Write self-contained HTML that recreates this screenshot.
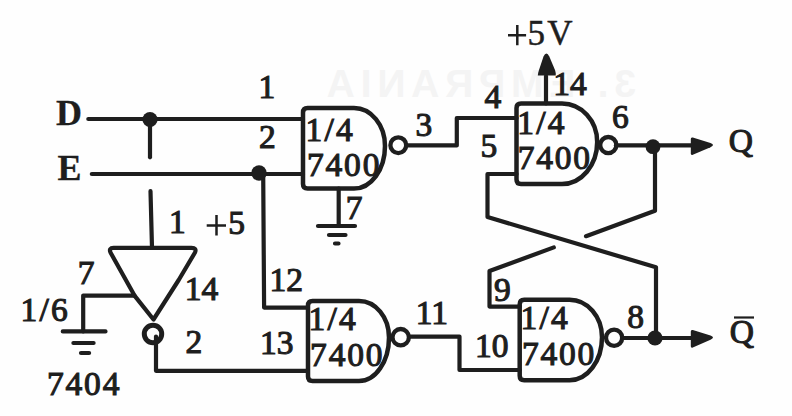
<!DOCTYPE html>
<html><head><meta charset="utf-8"><style>
html,body{margin:0;padding:0;background:#fefefe;}
svg{display:block;}
text{font-family:"Liberation Serif",serif;font-size:33.5px;fill:#1e1e1e;stroke:#1e1e1e;stroke-width:1.1px;}
.w{letter-spacing:1.8px;}
.f{letter-spacing:2.2px;}
.l{stroke-width:0.5px;font-size:35px;}
.b{font-weight:bold;stroke-width:0.3px;font-size:36px;}
</style></head><body>
<svg width="792" height="416" viewBox="0 0 792 416">
<g id="ghost"><text class="g" x="-636" y="97" transform="scale(-1,1)" style="font-family:'Liberation Sans',sans-serif;font-weight:bold;font-size:39px;fill:#f4f4f4;stroke:none;letter-spacing:5.8px">3. EMPRANIA</text>
</g>
<g fill="none" stroke="#1e1e1e" stroke-width="4.2" stroke-linejoin="round" stroke-linecap="round">
<!-- D and E wires -->
<path d="M88.3 119H303"/>
<path d="M150 120V157.3"/>
<path d="M150.5 191.2L152 247.9"/>
<path d="M91.8 174H303"/>
<path d="M263.2 173L264.1 307.6H308"/>
<!-- gate 1 -->
<path d="M303 112.5Q303 108 307.5 108H354A31.0 38.0 0 0 1 385 146A31.0 42.6 0 0 1 354 188.6H307.5Q303 188.6 303 184.1Z" stroke-width="4.5"/>
<circle cx="398.3" cy="145.2" r="7.9" stroke-width="4.3"/>
<path d="M406 145.4H456.8V118H516.5"/>
<!-- gate 1 ground -->
<path d="M338.7 188.6V226"/>
<path d="M318 226H355M329 235H345.5M335 243.5H338.5"/>
<!-- gate 2 -->
<path d="M516.5 108.0Q516.5 103.5 521.0 103.5H562A35.2 38.5 0 0 1 597.2 142A35.2 42 0 0 1 562 184H521.0Q516.5 184 516.5 179.5Z" stroke-width="4.5"/>
<circle cx="608.3" cy="145.1" r="8.1" stroke-width="4.3"/>
<path d="M616 145.3H700"/>
<path d="M546 76V103.5"/>
<path d="M487.5 174H516.5M487.5 174V217L656 267.3V338"/>
<path d="M655 146V210.7L586 236.2M553.8 247.4L489.5 271V306.6H519.7"/>
<!-- gate 3 -->
<path d="M308 305.5Q308 301 312.5 301H359A30.0 36.4 0 0 1 389 337.4A30.0 43.6 0 0 1 359 381H312.5Q308 381 308 376.5Z" stroke-width="4.5"/>
<circle cx="400.7" cy="337.2" r="8.2" stroke-width="4.3"/>
<path d="M409 336.6H459.5V370H519.7"/>
<!-- gate 4 -->
<path d="M519.7 304.2Q519.7 299.7 524.2 299.7H569.5A32.5 37.5 0 0 1 602 337.2A32.5 43.1 0 0 1 569.5 380.3H524.2Q519.7 380.3 519.7 375.8Z" stroke-width="4.5"/>
<circle cx="614.1" cy="337.7" r="8.1" stroke-width="4.3"/>
<path d="M622 338H700"/>
<!-- inverter -->
<path d="M113.5 247.9H191.5Q197 247.9 195 252.5L178.7 280L153.5 319.5L134.5 295.6L110.5 252.5Q108.5 247.9 113.5 247.9Z"/>
<circle cx="153" cy="334" r="8.7" stroke-width="5"/>
<path d="M156 336.5V370.8H308"/>
<path d="M134.5 295.6H83.2V331.4"/>
<path d="M62.8 331.4H105.5M73.4 343H93.6M81 353H89.1"/>
<!-- plus signs -->
<path d="M508 35.2H526.1M517.3 25.1V45.3M206.7 225.5H226M216.5 214.9V235.6" stroke-width="2.5" stroke-linecap="butt"/>
<!-- Q bar -->
<path d="M734 317.5H754" stroke-width="2.2" stroke-linecap="butt"/>
</g>
<g fill="#1e1e1e">
<circle cx="150" cy="119.5" r="7.6"/>
<circle cx="259" cy="173" r="7.7"/>
<circle cx="653" cy="146.7" r="7.4"/>
<circle cx="655" cy="338" r="7.6"/>
<path d="M690.8 139Q690.8 137 692.8 137.6L710.5 143Q715.5 145 710.5 147.2L692.8 154.8Q690.8 155.5 690.8 153.5Z"/>
<path d="M690.8 331.5Q690.8 329.5 692.8 330.1L710.5 335.5Q715.5 337.5 710.5 339.7L692.8 347.5Q690.8 348.2 690.8 346.2Z"/>
<path d="M537.8 75.5Q538 73 539 70L543.5 56.5Q546.4 50.5 549.3 56.5L555 70Q556 73 555.8 75.5Z"/>
</g>
<g>
<text class="b" x="56.0" y="125.0">D</text>
<text class="b" x="57.5" y="179.5">E</text>
<text x="258.4" y="97.7">1</text>
<text x="259.0" y="148.1">2</text>
<text x="305.6" y="141.2" class="f">1/4</text>
<text x="307.0" y="175.8" class="w">7400</text>
<text x="345.7" y="219.3">7</text>
<text x="415.5" y="136.4">3</text>
<text x="484.5" y="108.0">4</text>
<text x="480.5" y="157.2">5</text>
<text x="553.2" y="94.8">14</text>
<text x="527.5" y="45.0" class="f l">5V</text>
<text x="517.2" y="134.0" class="f">1/4</text>
<text x="517.7" y="168.5" class="w">7400</text>
<text x="612.0" y="127.5">6</text>
<text x="728.7" y="151.8">Q</text>
<text x="169.0" y="232.5">1</text>
<text x="228.2" y="233.5">5</text>
<text x="77.8" y="284.1">7</text>
<text x="184.8" y="300.2">14</text>
<text x="20.6" y="320.5" class="f">1/6</text>
<text x="185.5" y="352.6">2</text>
<text x="47.0" y="394.5" class="w">7404</text>
<text x="269.4" y="291.1">12</text>
<text x="260.0" y="353.5">13</text>
<text x="308.6" y="330.0" class="f">1/4</text>
<text x="310.1" y="365.7" class="w">7400</text>
<text x="415.8" y="324.0">11</text>
<text x="475.0" y="357.0">10</text>
<text x="494.1" y="301.0">9</text>
<text x="520.6" y="328.9" class="f">1/4</text>
<text x="521.9" y="365.0" class="w">7400</text>
<text x="627.2" y="327.5">8</text>
<text x="729.8" y="342.9">Q</text>
</g>
</svg>
</body></html>
